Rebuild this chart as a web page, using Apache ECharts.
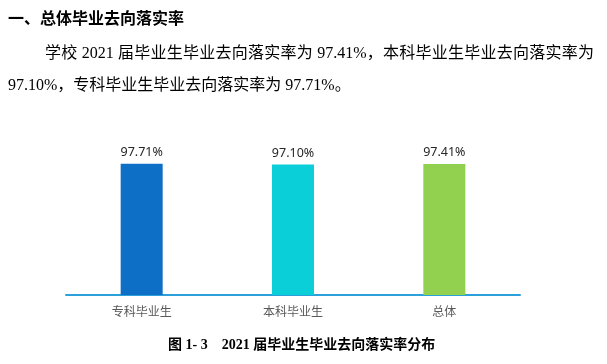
<!DOCTYPE html>
<html>
<head>
<meta charset="utf-8">
<script src="https://cdn.jsdelivr.net/npm/echarts@6/dist/echarts.min.js"></script>
<style>
html,body{margin:0;padding:0;background:#fff;}
#wrap{position:relative;width:607px;height:364px;overflow:hidden;}
#chart{position:absolute;left:0;top:0;width:607px;height:364px;}
.t{position:absolute;color:#000;}
#h{left:8px;top:6px;font:bold 16px "Noto Sans CJK SC",sans-serif;line-height:22px;white-space:nowrap;}
#p1{left:45px;top:42px;width:549px;height:22px;overflow:hidden;font:16px "Liberation Serif","Noto Sans CJK SC",serif;line-height:22px;text-align:justify;text-align-last:justify;}
#p2{left:8px;top:74px;font:16px "Liberation Serif","Noto Sans CJK SC",serif;line-height:22px;white-space:nowrap;}
#cap{left:168px;top:335px;font:bold 14px "Liberation Serif","Noto Sans CJK SC",serif;line-height:20px;white-space:pre;}
</style>
</head>
<body>
<div id="wrap">
<div id="chart"></div>
<div class="t" id="h">一、总体毕业去向落实率</div>
<div class="t" id="p1">学校 2021 届毕业生毕业去向落实率为 97.41%，本科毕业生毕业去向落实率为</div>
<div class="t" id="p2">97.10%，专科毕业生毕业去向落实率为 97.71%。</div>
<div class="t" id="cap">图 1- 3    2021 届毕业生毕业去向落实率分布</div>
</div>
<script>
var categories = ['专科毕业生', '本科毕业生', '总体'];
var values = [97.71, 97.10, 97.41];
var colors = ['#0E6FC6', '#0BCFD8', '#92D050'];

var chart = echarts.init(document.getElementById('chart'), null, {renderer: 'canvas'});
chart.setOption({
  animation: false,
  grid: {left: 66, width: 454, top: 160.6, height: 134.4, containLabel: false},
  xAxis: {
    type: 'category',
    data: categories,
    axisLine: {show: true, lineStyle: {color: '#2CA0D8', width: 2}},
    axisTick: {show: false},
    axisLabel: {color: '#595959', fontSize: 12, margin: 10, fontFamily: 'Noto Sans CJK SC'}
  },
  yAxis: {
    type: 'value', min: 0, max: 100,
    show: false, splitLine: {show: false}
  },
  series: [{
    type: 'bar',
    barWidth: 42,
    data: values.map(function (v, i) { return {value: v, itemStyle: {color: colors[i]}}; }),
    label: {
      show: true, position: 'top', distance: 5,
      color: '#262626', fontSize: 12.5, fontFamily: 'Noto Sans',
      formatter: function (p) { return p.value.toFixed(2) + '%'; }
    }
  }]
});
</script>
</body>
</html>
